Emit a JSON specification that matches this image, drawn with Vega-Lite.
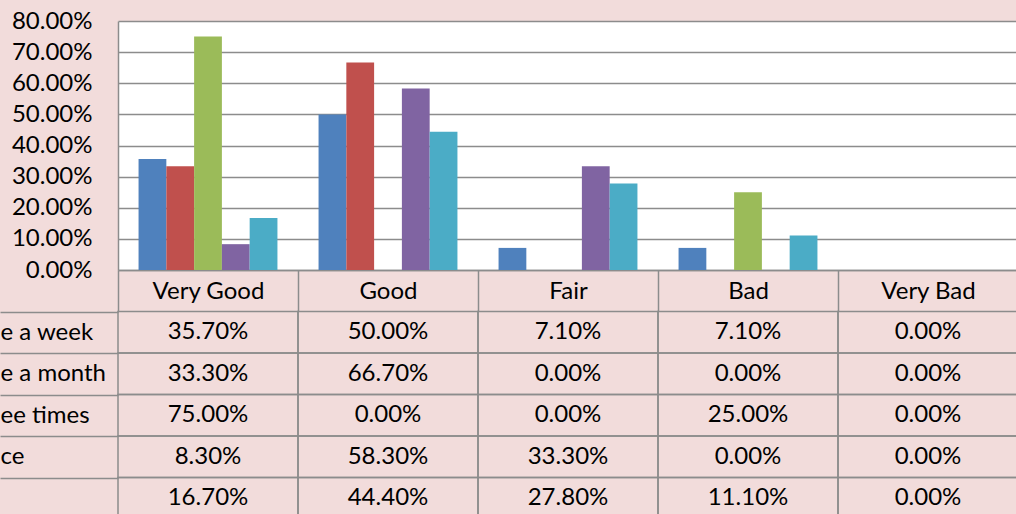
{
  "$schema": "https://vega.github.io/schema/vega-lite/v6.json",
  "width": 898,
  "height": 249,
  "autosize": {"type": "none"},
  "padding": {"left": 118, "top": 21, "right": 0, "bottom": 244},
  "background": "#F2DCDB",
  "view": {"fill": "#FFFFFF", "stroke": null},
  "config": {"font": "Lato", "axis": {"labelFont": "Lato", "labelFontSize": 24, "labelColor": "#000000", "title": null}},
  "data": {"values": [
    {"cat": "Very Good", "series": "e a week", "value": 0.357},
    {"cat": "Very Good", "series": "e a month", "value": 0.333},
    {"cat": "Very Good", "series": "ee times", "value": 0.75},
    {"cat": "Very Good", "series": "ce", "value": 0.083},
    {"cat": "Very Good", "series": "", "value": 0.167},
    {"cat": "Good", "series": "e a week", "value": 0.5},
    {"cat": "Good", "series": "e a month", "value": 0.667},
    {"cat": "Good", "series": "ee times", "value": 0},
    {"cat": "Good", "series": "ce", "value": 0.583},
    {"cat": "Good", "series": "", "value": 0.444},
    {"cat": "Fair", "series": "e a week", "value": 0.071},
    {"cat": "Fair", "series": "e a month", "value": 0},
    {"cat": "Fair", "series": "ee times", "value": 0},
    {"cat": "Fair", "series": "ce", "value": 0.333},
    {"cat": "Fair", "series": "", "value": 0.278},
    {"cat": "Bad", "series": "e a week", "value": 0.071},
    {"cat": "Bad", "series": "e a month", "value": 0},
    {"cat": "Bad", "series": "ee times", "value": 0.25},
    {"cat": "Bad", "series": "ce", "value": 0},
    {"cat": "Bad", "series": "", "value": 0.111},
    {"cat": "Very Bad", "series": "e a week", "value": 0},
    {"cat": "Very Bad", "series": "e a month", "value": 0},
    {"cat": "Very Bad", "series": "ee times", "value": 0},
    {"cat": "Very Bad", "series": "ce", "value": 0},
    {"cat": "Very Bad", "series": "", "value": 0}
  ]},
  "layer": [
    {
      "mark": {"type": "bar"},
      "encoding": {
        "x": {
          "field": "cat", "type": "nominal",
          "scale": {"domain": ["Very Good", "Good", "Fair", "Bad", "Very Bad"], "range": [0, 900], "paddingInner": 0, "paddingOuter": 0},
          "axis": {"orient": "bottom", "title": null, "domainColor": "#8c8c8c", "domainWidth": 1.5, "tickBand": "extent", "tickSize": 41.5, "tickColor": "#8c8c8c", "tickWidth": 1.5, "labelAngle": 0, "labelBaseline": "middle", "labelPadding": -20.5, "labelFontSize": 24, "labelOverlap": false, "labelBound": false}
        },
        "xOffset": {
          "field": "series", "type": "nominal",
          "scale": {"domain": ["e a week", "e a month", "ee times", "ce", ""], "paddingInner": 0, "paddingOuter": 0.74}
        },
        "y": {
          "field": "value", "type": "quantitative",
          "scale": {"domain": [0, 0.8], "nice": false},
          "axis": {"orient": "left", "values": [0, 0.1, 0.2, 0.3, 0.4, 0.5, 0.6, 0.7, 0.8], "format": ".2%", "grid": true, "gridColor": "#8c8c8c", "gridWidth": 1.5, "domainColor": "#8c8c8c", "domainWidth": 1.5, "ticks": false, "tickSize": 0, "labelPadding": 26, "labelFontSize": 24, "title": null}
        },
        "color": {
          "field": "series", "type": "nominal",
          "scale": {"domain": ["e a week", "e a month", "ee times", "ce", ""], "range": ["#4F81BD", "#C0504D", "#9BBB59", "#8064A2", "#4BACC6"]},
          "legend": null
        }
      }
    },
    {
      "layer": [
        {
          "mark": {"type": "rect", "filled": false, "color": "#8c8c8c", "strokeWidth": 1.5},
          "encoding": {
            "x": {"field": "cat", "type": "nominal", "scale": {"domain": ["Very Good", "Good", "Fair", "Bad", "Very Bad"]}},
            "y": {
              "field": "series", "type": "nominal",
              "scale": {"domain": ["e a week", "e a month", "ee times", "ce", ""], "range": [290.5, 498], "paddingInner": 0, "paddingOuter": 0},
              "axis": {"orient": "left", "title": null, "domain": false, "tickBand": "extent", "tickSize": 118, "tickColor": "#8c8c8c", "tickWidth": 1.5, "labelAlign": "left", "labelBaseline": "middle", "labelPadding": 0, "labelFontSize": 24, "labelBound": false, "labelOverlap": false}
            }
          }
        },
        {
          "mark": {"type": "text", "font": "Lato", "fontSize": 24, "fill": "#000000"},
          "encoding": {
            "x": {"field": "cat", "type": "nominal", "scale": {"domain": ["Very Good", "Good", "Fair", "Bad", "Very Bad"]}},
            "y": {"field": "series", "type": "nominal", "scale": {"domain": ["e a week", "e a month", "ee times", "ce", ""]}},
            "text": {"field": "value", "type": "quantitative", "format": ".2%"}
          }
        }
      ]
    }
  ],
  "resolve": {"scale": {"y": "independent"}, "axis": {"y": "independent"}}
}
